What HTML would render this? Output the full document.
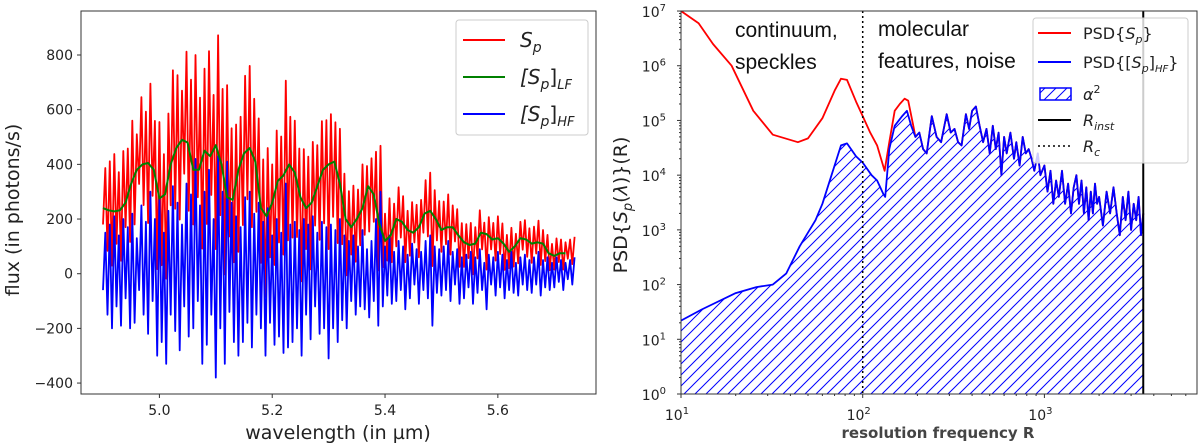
<!DOCTYPE html>
<html><head><meta charset="utf-8"><style>
body{margin:0;background:#fff;width:1200px;height:446px;overflow:hidden}
svg{display:block;font-family:"DejaVu Sans","Liberation Sans",sans-serif}
</style></head><body>
<svg id="fig" width="1200" height="446" viewBox="0 0 1200 446" xmlns="http://www.w3.org/2000/svg">
<defs>
<pattern id="hatch" patternUnits="userSpaceOnUse" width="11" height="11">
<path d="M-1,12 L12,-1 M-3,3 L3,-3 M8,14 L14,8" stroke="#0000ff" stroke-width="1"/>
</pattern>
<clipPath id="clipL"><rect x="81" y="11" width="515" height="383"/></clipPath>
<clipPath id="clipR"><rect x="681" y="11" width="516" height="383"/></clipPath>
</defs>
<g id="left"></g>
<g id="right"></g>
</svg>
<script>
// ---- Left chart data ----
const lfStart = 4.90, lfStep = 0.01;
const lfValues = [240,232,228,232,260,330,380,400,405,380,275,290,400,460,490,480,380,380,450,430,470,400,280,270,380,440,460,410,240,210,260,340,360,400,370,280,240,260,320,380,400,410,330,200,170,200,240,320,290,180,120,140,200,190,160,150,170,220,230,200,160,170,170,140,115,105,110,150,145,125,130,110,80,100,130,125,110,115,110,75,65,75,75];
const hfStart = 4.90, hfStep = 0.004;
const hfValues = [-60,150,-150,180,-200,210,-120,140,-190,200,
-90,170,-200,220,-180,130,-60,250,-150,190,
-220,300,-100,200,-300,280,-250,150,-330,230,
-150,320,-210,260,-280,180,-120,330,-230,290,
-200,420,-100,250,-330,300,-260,380,-150,200,
-380,430,-200,300,-330,410,-140,260,-250,210,
-300,170,-250,280,-180,300,-270,220,-150,260,
-200,190,-300,240,-180,140,-260,200,-230,150,
-290,330,-270,180,-250,190,-200,160,-300,200,
-150,180,-240,210,-120,150,-220,190,-200,170,
-310,180,-200,160,-250,200,-170,140,-200,120,
-100,140,-150,100,-120,160,-130,90,-160,120,
-100,200,-190,300,-120,100,-80,140,-110,80,
-100,120,-60,100,-130,70,-90,110,-40,90,
-110,80,-60,120,-90,140,-190,100,-70,90,
-80,100,-60,120,-100,80,-40,90,-110,60,
-90,70,-50,80,-110,60,-70,90,-60,40,
-130,70,-40,60,-80,80,-50,70,-90,50,
-60,80,-70,40,-80,60,-40,70,-60,50,
-70,60,-40,80,-80,50,-50,60,-60,40,
-50,60,-30,50,-60,40,-20,50,-40,60];
const xTicksL = [5.0,5.2,5.4,5.6];
const xTickLabelsL = ["5.0","5.2","5.4","5.6"];
const yTicksL = [-400,-200,0,200,400,600,800];
const yTickLabelsL = ["\u2212400","\u2212200","0","200","400","600","800"];

// ---- Right chart data ----
const redLowR = [10,12.5,15,19,25,32,44,50,60,70,76,82,92,100,110,120,132,140,150,160,170,178,190];
const redLowV = [1e7,6e6,2.5e6,1e6,1.5e5,5.5e4,4e4,4.7e4,1.1e5,3.5e5,5.8e5,5.5e5,2.2e5,1.2e5,6e4,3.5e4,1.2e4,4e4,1.5e5,2e5,2.5e5,2.3e5,8e4];
const blueR = [10,13,20,26,32,38,45,55,60,70,76,82,92,100,112,120,130,133,140,150,165,175,185,195,205,215,225,240,255,270,290,305,320,335,350,370,385,400,420,440,460,480,500,520,540,560,580,600,620,650,680,700,730,760,790,820,850,880,920,950,1000,1040,1080,1120,1160,1200,1250,1300,1350,1400,1450,1500,1550,1600,1650,1700,1750,1800,1850,1900,1950,2000,2100,2200,2300,2400,2500,2600,2700,2800,2900,3000,3100,3200,3300,3400,3500];
const blueV = [22,35,70,90,100,160,500,1500,3000,1.5e4,3.5e4,3.8e4,2.2e4,1.7e4,1e4,8e3,4.5e3,4e3,3e4,8e4,1.2e5,1.5e5,8e4,5e4,6e4,3e4,2.5e4,1.2e5,5e4,4e4,1.3e5,6e4,7e4,4e4,3.5e4,1.3e5,7e4,1.5e5,1.8e5,8e4,4e4,7e4,2.5e4,8e4,3e4,6e4,1e4,5e4,2.5e4,6e4,2e4,4e4,1.5e4,5e4,2.5e4,3e4,2e4,1.2e4,2.5e4,1e4,1.5e4,5e3,1.2e4,3e3,8e3,4e3,1.2e4,3e3,7e3,2e3,6e3,1e4,3e3,8e3,2e3,6e3,1.5e3,5e3,2e3,7e3,3e3,4e3,1.2e3,5e3,2e3,6e3,2e3,800,4e3,1.5e3,5e3,1e3,3e3,1.5e3,4e3,800,2e3];
const rInst = 3500;
const rC = 100;
const xTicksR = [10,100,1000];
const yTicksR = [0,1,2,3,4,5,6,7];

const NS = "http://www.w3.org/2000/svg";
function mk(parent, tag, attrs, text){
  const e = document.createElementNS(NS, tag);
  for (const k in attrs) e.setAttribute(k, attrs[k]);
  if (text !== undefined) e.textContent = text;
  parent.appendChild(e);
  return e;
}

// ===== LEFT =====
const L = document.getElementById('left');
const lx = v => 81 + (v - 4.861) / (5.774 - 4.861) * 515;
const ly = v => 394 - (v + 440) / (961 + 440) * 383;
function lfAt(x){
  const f = (x - lfStart) / lfStep;
  const i = Math.max(0, Math.min(lfValues.length - 2, Math.floor(f)));
  const t = Math.min(1, Math.max(0, f - i));
  return lfValues[i] * (1 - t) + lfValues[i + 1] * t;
}
const gL = mk(L, 'g', {'clip-path':'url(#clipL)'});


let dRed = '', dBlue = '', dGreen = '';
hfValues.forEach((v, i) => {
  const x = hfStart + i * hfStep;
  dRed += (i ? 'L' : 'M') + lx(x).toFixed(1) + ',' + ly(lfAt(x) + v).toFixed(1);
  dBlue += (i ? 'L' : 'M') + lx(x).toFixed(1) + ',' + ly(v).toFixed(1);
});
lfValues.forEach((v, i) => {
  const x = lfStart + i * lfStep;
  dGreen += (i ? 'L' : 'M') + lx(x).toFixed(1) + ',' + ly(v).toFixed(1);
});
const pr = mk(gL, 'path', {d:dRed, fill:'none', stroke:'#ff0000', 'stroke-width':1.8, 'stroke-linejoin':'round'});


const pb = mk(gL, 'path', {d:dBlue, fill:'none', stroke:'#0000ff', 'stroke-width':1.8, 'stroke-linejoin':'round'});


const pg = mk(gL, 'path', {d:dGreen, fill:'none', stroke:'#008000', 'stroke-width':2, 'stroke-linejoin':'round'});


const frL = mk(L, 'rect', {x:81, y:11, width:515, height:383, fill:'none', stroke:'#333', 'stroke-width':1});


xTicksL.forEach((t, i) => {
  mk(L, 'line', {x1:lx(t), x2:lx(t), y1:394, y2:398, stroke:'#333'});
  const tl = mk(L, 'text', {x:lx(t), y:415, 'font-size':14, 'text-anchor':'middle', fill:'#222'}, xTickLabelsL[i]);
  
  
});
yTicksL.forEach((t, i) => {
  mk(L, 'line', {x1:77, x2:81, y1:ly(t), y2:ly(t), stroke:'#333'});
  const tl = mk(L, 'text', {x:73, y:ly(t) + 5, 'font-size':14, 'text-anchor':'end', fill:'#222'}, yTickLabelsL[i]);
  
  
});
const xlL = mk(L, 'text', {x:338, y:439, 'font-size':19, 'text-anchor':'middle', fill:'#222'}, 'wavelength (in µm)');


const ylL = mk(L, 'text', {x:0, y:0, 'font-size':19, 'text-anchor':'middle', fill:'#222', transform:'translate(19,210) rotate(-90)'}, 'flux (in photons/s)');


// legend left
const lgL = mk(L, 'g', {});


mk(lgL, 'rect', {x:456, y:20, width:132, height:115, rx:3, fill:'#fff', 'fill-opacity':0.85, stroke:'#ccc'});
const legL = [['#ff0000', 'S', 'p', ''], ['#008000', '[S', 'p', ']LF'], ['#0000ff', '[S', 'p', ']HF']];
legL.forEach((e, i) => {
  const y = 40 + i * 37;
  const ln = mk(lgL, 'line', {x1:463, x2:505, y1:y, y2:y, stroke:e[0], 'stroke-width':2});
  
  
  const t = mk(lgL, 'text', {x:520, y:y + 7, 'font-size':20, fill:'#222', 'font-style':'italic'});
  
  
  const a = mk(t, 'tspan', {}, e[1]);
  mk(t, 'tspan', {'font-size':14, dy:5}, e[2]);
  if (e[3]) {
    mk(t, 'tspan', {dy:-5, 'font-style':'normal'}, ']');
    mk(t, 'tspan', {'font-size':13, dy:5}, e[3].slice(1));
  }
});

// ===== RIGHT =====
const R = document.getElementById('right');
const rx = v => 681 + (Math.log10(v) - 1) * 181.7;
const ry = v => 394 - Math.log10(v) * 54.71;
const gR = mk(R, 'g', {'clip-path':'url(#clipR)'});


let dB = '', dF = '';
blueR.forEach((r, i) => { dB += (i ? 'L' : 'M') + rx(r).toFixed(1) + ',' + ry(blueV[i]).toFixed(1); });
dF = dB + 'L' + rx(blueR[blueR.length - 1]).toFixed(1) + ',' + ry(1) + 'L' + rx(blueR[0]).toFixed(1) + ',' + ry(1) + 'Z';
const hf = mk(gR, 'path', {d:dF, fill:'url(#hatch)', stroke:'none'});


let dR = '';
let k = 0;
redLowR.forEach((r, i) => { dR += (k++ ? 'L' : 'M') + rx(r).toFixed(1) + ',' + ry(redLowV[i]).toFixed(1); });
blueR.forEach((r, i) => { if (r > redLowR[redLowR.length - 1]) dR += 'L' + rx(r).toFixed(1) + ',' + ry(blueV[i]).toFixed(1); });
const rr = mk(gR, 'path', {d:dR, fill:'none', stroke:'#ff0000', 'stroke-width':1.8, 'stroke-linejoin':'round'});


const rb = mk(gR, 'path', {d:dB, fill:'none', stroke:'#0000ff', 'stroke-width':1.8, 'stroke-linejoin':'round'});


const lc = mk(gR, 'line', {x1:rx(rC), x2:rx(rC), y1:11, y2:394, stroke:'#000', 'stroke-width':1.5, 'stroke-dasharray':'2,3'});


const li = mk(gR, 'line', {x1:rx(rInst), x2:rx(rInst), y1:11, y2:394, stroke:'#000', 'stroke-width':2});


const frR = mk(R, 'rect', {x:681, y:11, width:516, height:383, fill:'none', stroke:'#333', 'stroke-width':1});


// x ticks log
for (let d = 1; d <= 3; d++) {
  for (let m = 1; m <= 9; m++) {
    const v = m * Math.pow(10, d);
    const x = rx(v);
    if (x > 1197) continue;
    mk(R, 'line', {x1:x, x2:x, y1:394, y2:394 + (m === 1 ? 4 : 2), stroke:'#333'});
  }
}
xTicksR.forEach(t => {
  const tl = mk(R, 'text', {x:rx(t) - 4, y:420, 'font-size':14, 'text-anchor':'middle', fill:'#222'});
  
  
  mk(tl, 'tspan', {}, '10');
  mk(tl, 'tspan', {'font-size':10, dy:-6}, String(Math.round(Math.log10(t))));
});
yTicksR.forEach(t => {
  const y = ry(Math.pow(10, t));
  mk(R, 'line', {x1:677, x2:681, y1:y, y2:y, stroke:'#333'});
  if (t < 7) for (let m = 2; m <= 9; m++) { const yy = ry(m * Math.pow(10, t)); mk(R, 'line', {x1:679, x2:681, y1:yy, y2:yy, stroke:'#333'}); }
  const tl = mk(R, 'text', {x:666, y:y + 6, 'font-size':14, 'text-anchor':'end', fill:'#222'});
  
  
  mk(tl, 'tspan', {}, '10');
  mk(tl, 'tspan', {'font-size':10, dy:-6}, String(t));
});
const xlR = mk(R, 'text', {x:938, y:438, 'font-size':15, 'text-anchor':'middle', fill:'#444', 'font-weight':'bold'}, 'resolution frequency R');


const ylR = mk(R, 'text', {x:0, y:0, 'font-size':19, 'text-anchor':'middle', fill:'#222', transform:'translate(627,205) rotate(-90)'});


mk(ylR, 'tspan', {}, 'PSD{');
mk(ylR, 'tspan', {'font-style':'italic'}, 'S');
mk(ylR, 'tspan', {'font-size':13, dy:5, 'font-style':'italic'}, 'p');
mk(ylR, 'tspan', {dy:-5}, '(');
mk(ylR, 'tspan', {'font-style':'italic'}, 'λ');
mk(ylR, 'tspan', {}, ')}(R)');
// annotations
[['continuum,', 735, 37, 'annotation-continuum'], ['speckles', 735, 69, 'annotation-speckles'], ['molecular', 878, 36, 'annotation-molecular'], ['features, noise', 878, 68, 'annotation-features-noise']].forEach(a => {
  const t = mk(R, 'text', {x:a[1], y:a[2], 'font-size':21, fill:'#111', 'font-family':'Liberation Sans, sans-serif'}, a[0]);
  
  
});
// legend right
const lgR = mk(R, 'g', {});


mk(lgR, 'rect', {x:1033, y:18, width:155, height:145, rx:3, fill:'#fff', 'fill-opacity':0.8, stroke:'#ccc'});
const legRy = [33, 62, 94, 120, 146];
const l1 = mk(lgR, 'line', {x1:1038, x2:1071, y1:legRy[0], y2:legRy[0], stroke:'#ff0000', 'stroke-width':2});
 
const l2 = mk(lgR, 'line', {x1:1038, x2:1071, y1:legRy[1], y2:legRy[1], stroke:'#0000ff', 'stroke-width':2});
 
const l3 = mk(lgR, 'rect', {x:1040, y:88, width:31, height:12, fill:'url(#hatch)', stroke:'#0000ff', 'stroke-width':1.5});
 
const l4 = mk(lgR, 'line', {x1:1038, x2:1071, y1:legRy[3], y2:legRy[3], stroke:'#000', 'stroke-width':2});
 
const l5 = mk(lgR, 'line', {x1:1038, x2:1071, y1:legRy[4], y2:legRy[4], stroke:'#000', 'stroke-width':1.5, 'stroke-dasharray':'2,3'});
 
function legText(y, parts){
  const t = mk(lgR, 'text', {x:1083, y:y + 6, 'font-size':16, fill:'#222'});
  
  
  parts.forEach(p => mk(t, 'tspan', p[1], p[0]));
}
legText(legRy[0], [['PSD{', {}], ['S', {'font-style':'italic'}], ['p', {'font-size':11, dy:4, 'font-style':'italic'}], ['}', {dy:-4}]]);
legText(legRy[1], [['PSD{[', {}], ['S', {'font-style':'italic'}], ['p', {'font-size':11, dy:4, 'font-style':'italic'}], [']', {dy:-4}], ['HF', {'font-size':10, dy:4, 'font-style':'italic'}], ['}', {dy:-4}]]);
legText(legRy[2], [['α', {'font-style':'italic'}], ['2', {'font-size':11, dy:-7}]]);
legText(legRy[3], [['R', {'font-style':'italic'}], ['inst', {'font-size':11, dy:4, 'font-style':'italic'}]]);
legText(legRy[4], [['R', {'font-style':'italic'}], ['c', {'font-size':11, dy:4, 'font-style':'italic'}]]);
</script>
</body></html>
